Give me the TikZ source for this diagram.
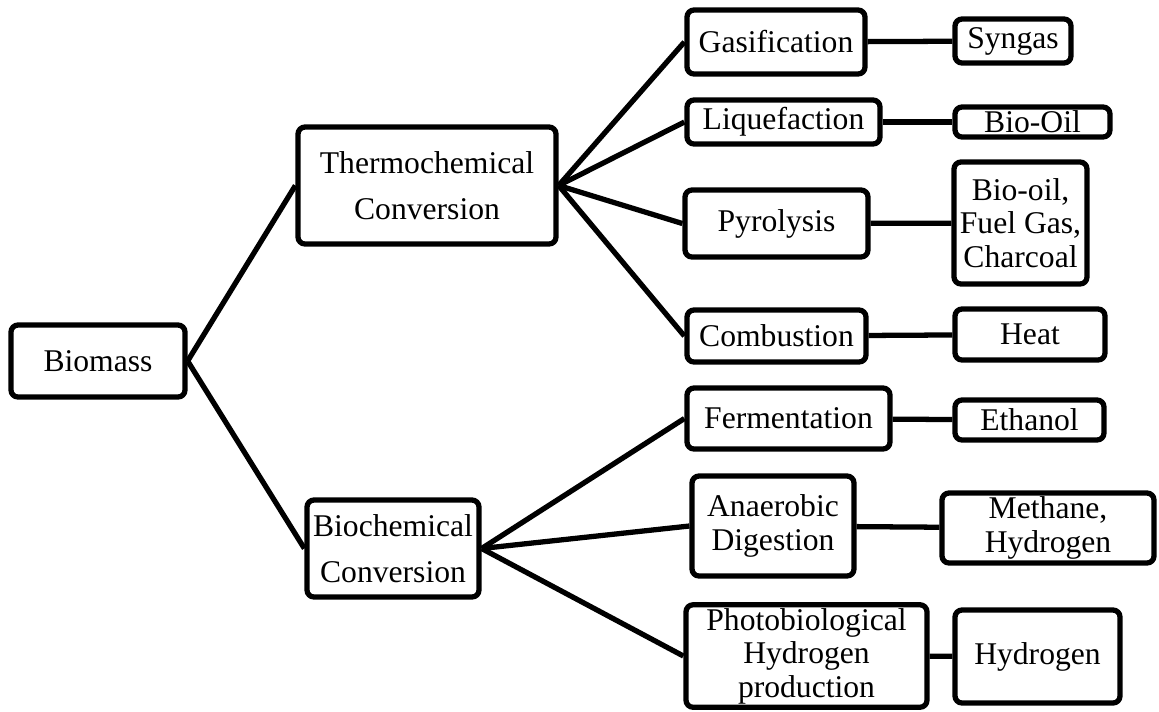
\documentclass[tikz,border=0pt]{standalone}
\usepackage{fontspec}
\setmainfont{Liberation Serif}
\usetikzlibrary{positioning}

\begin{document}
\begin{tikzpicture}[
      x=0.02cm, y=-0.02cm,
      box/.style={draw, line width=3pt, rectangle, rounded corners=4pt, align=center, inner sep=2pt, fill=white,
        font=\fontsize{18pt}{19pt}\selectfont},
      size/.style 2 args={minimum width=#1*0.02cm, minimum height=#2*0.02cm},
      link/.style={line width=3pt}
    ]
      \useasboundingbox (0,0) rectangle (1159,711);

      % Root
      \node (biomass) [box, size={174}{72}] at (98,361) {Biomass};

      % Two routes
      \node (thermo) [box, size={258}{117}] at (427,185.5) {Thermochemical\\[7pt]Conversion};
      \node (biochem) [box, size={172}{97}] at (393,548.5) {Biochemical\\[7pt]Conversion};

      % Thermochemical processes
      \node (gasif) [box, size={178}{64}] at (776,42) {Gasification};
      \node (liquef) [box, size={193}{44}] at (783.5,122) {Liquefaction};
      \node (pyro) [box, size={183}{67}] at (776.5,223.5) {Pyrolysis};
      \node (combust) [box, size={179}{52}] at (776.5,336) {Combustion};

      % Biochemical processes
      \node (ferment) [box, size={203}{61}] at (788.5,418.5) {Fermentation};
      \node (anaer) [box, size={162}{100}] at (773,526) {Anaerobic\\Digestion};
      \node (photo) [box, size={241}{102}] at (806.5,656) {Photobiological\\Hydrogen\\production};

      % Products
      \node (syngas) [box, size={116}{44}] at (1013,41) {Syngas};
      \node (biooil) [box, size={155}{30}] at (1032.5,122) {Bio-Oil};
      \node (pyroprod) [box, size={133}{122}] at (1020.5,223) {Bio-oil,\\Fuel Gas,\\Charcoal};
      \node (heat) [box, size={150}{51}] at (1030,334.5) {Heat};
      \node (ethanol) [box, size={149}{40}] at (1029.5,420) {Ethanol};
      \node (methane) [box, size={212}{70}] at (1048,528) {Methane,\\Hydrogen};
      \node (hydrogen) [box, size={165}{93}] at (1037.5,656.5) {Hydrogen};

      % Connectors
      \draw[link] (biomass.east) -- (thermo.west);
      \draw[link] (biomass.east) -- (biochem.west);

      \draw[link] (thermo.east) -- (gasif.west);
      \draw[link] (thermo.east) -- (liquef.west);
      \draw[link] (thermo.east) -- (pyro.west);
      \draw[link] (thermo.east) -- (combust.west);

      \draw[link] (biochem.east) -- (ferment.west);
      \draw[link] (biochem.east) -- (anaer.west);
      \draw[link] (biochem.east) -- (photo.west);

      \draw[link] (gasif) -- (syngas);
      \draw[link] (liquef) -- (biooil);
      \draw[link] (pyro) -- (pyroprod);
      \draw[link] (combust) -- (heat);
      \draw[link] (ferment) -- (ethanol);
      \draw[link] (anaer) -- (methane);
      \draw[link] (photo) -- (hydrogen);
    \end{tikzpicture}
\end{document}
